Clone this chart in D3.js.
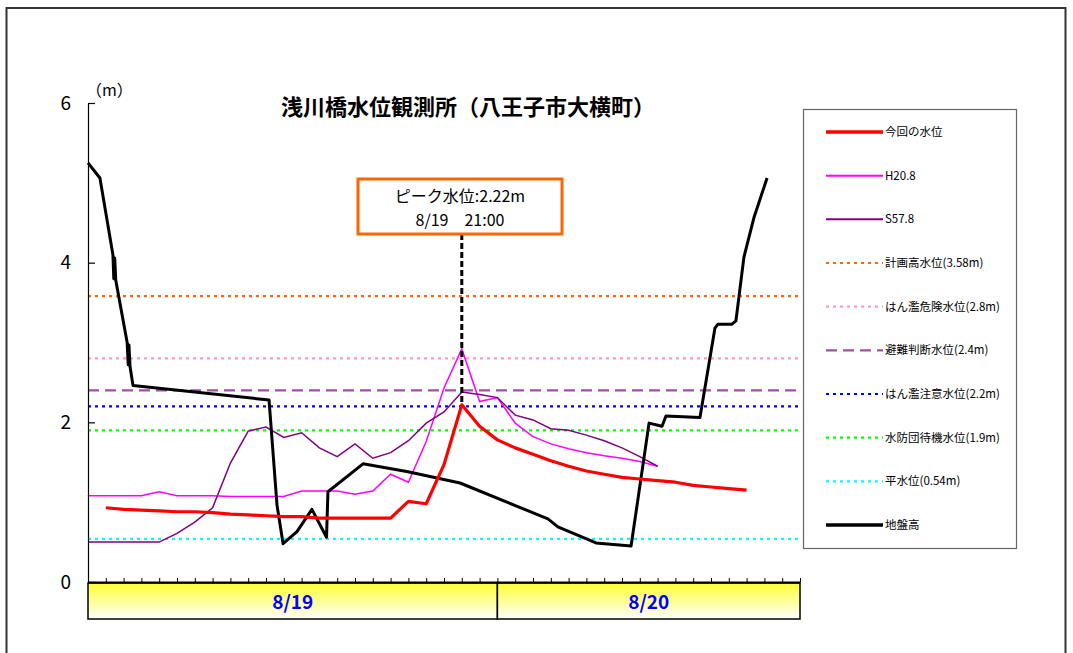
<!DOCTYPE html>
<html><head><meta charset="utf-8">
<script src="https://cdn.jsdelivr.net/npm/d3@7"></script>
<style>
body{margin:0;background:#fff;}
svg{display:block;}
text{font-family:"Noto Sans CJK JP","Noto Sans",sans-serif;}
</style></head>
<body><svg id="c" width="1073" height="653"></svg>
<script>
// ---- data ----
const titleText = "浅川橋水位観測所（八王子市大横町）";
const yTicks = [0, 2, 4, 6];
const hourTicks = d3.range(0, 41);
const days = ["8/19", "8/20"];
const dayStart = [0, 23];
const dayEnd = [23, 40];

// 今回の水位 (index = hour position)
const nowLevel = [null, 0.93, 0.91, 0.90, 0.89, 0.88, 0.88, 0.87, 0.85, 0.84, 0.83,
  0.82, 0.82, 0.80, 0.80, 0.80, 0.80, 0.80, 1.01, 0.98, 1.47,
  2.22, 1.95, 1.78, 1.68, 1.60, 1.52, 1.45, 1.39, 1.35, 1.31,
  1.29, 1.27, 1.25, 1.21, 1.19, 1.17, 1.15];
// H20.8
const h208 = [1.08, 1.08, 1.08, 1.08, 1.13, 1.08, 1.08, 1.08, 1.07, 1.07, 1.07,
  1.07, 1.14, 1.14, 1.14, 1.10, 1.14, 1.35, 1.25, 1.76, 2.43,
  2.92, 2.26, 2.31, 1.99, 1.82, 1.73, 1.67, 1.62, 1.58, 1.55,
  1.51, 1.45];
// S57.8
const s578 = [0.50, 0.50, 0.50, 0.50, 0.50, 0.61, 0.75, 0.93, 1.49, 1.89, 1.94,
  1.81, 1.87, 1.68, 1.57, 1.73, 1.55, 1.62, 1.77, 1.99, 2.13,
  2.38, 2.35, 2.31, 2.09, 2.03, 1.92, 1.90, 1.84, 1.77, 1.68,
  1.57, 1.45];
// 地盤高 (cross-section profile)
const groundX = [0, 0.67, 1.40, 1.45, 1.50, 1.56, 2.20, 2.26, 2.30, 2.36, 2.53,
  10.17, 10.62, 10.96, 11.74, 12.58, 13.40, 13.48, 15.45, 17.98, 20.90,
  25.84, 26.40, 28.54, 30.51, 31.52, 32.25, 32.47, 34.38, 35.22, 35.39,
  36.18, 36.40, 36.85, 37.42, 38.15];
const groundV = [5.25, 5.06, 4.10, 3.80, 4.06, 3.78, 3.00, 2.72, 2.97, 2.70, 2.46,
  2.28, 0.96, 0.48, 0.63, 0.91, 0.56, 1.13, 1.48, 1.38, 1.24,
  0.79, 0.69, 0.49, 0.45, 1.99, 1.95, 2.08, 2.06, 3.18, 3.23,
  3.23, 3.27, 4.07, 4.57, 5.06];

const levelNames = ["計画高水位(3.58m)", "はん濫危険水位(2.8m)", "避難判断水位(2.4m)", "はん濫注意水位(2.2m)", "水防団待機水位(1.9m)", "平水位(0.54m)"];
const levelValues = [3.58, 2.8, 2.4, 2.2, 1.9, 0.54];
const levelColors = ["#FF6600", "#FF99CC", "#A050A8", "#0000FF", "#00FF00", "#00FFFF"];
const levelDash = ["3,4", "3,4", "11,6", "3,4", "3,4", "3,4"];

const peakIndex = 21;
const peakValue = 2.22;
const peakLines = ["ピーク水位:2.22m", "8/19　21:00"];

// ---- drawing ----
const svg = d3.select("#c");
const x = d3.scaleLinear().domain([0, 40]).range([88, 800]);
const y = d3.scaleLinear().domain([0, 6]).range([582, 103]);

// outer frame
svg.append("rect").attr("x", 6.5).attr("y", 8).attr("width", 1059).attr("height", 660)
  .attr("fill", "none").attr("stroke", "#333").attr("stroke-width", 2);

// gradient
const defs = svg.append("defs");
const g1 = defs.append("linearGradient").attr("id", "yel").attr("x1", 0).attr("y1", 0).attr("x2", 0).attr("y2", 1);
g1.append("stop").attr("offset", "0%").attr("stop-color", "#FFFF33");
g1.append("stop").attr("offset", "100%").attr("stop-color", "#FFFFFF");

// title
svg.append("text").attr("x", 468).attr("y", 115).attr("text-anchor", "middle")
  .attr("font-size", 22).attr("font-weight", "bold").text(titleText);

// unit
svg.append("text").attr("x", 86).attr("y", 96).attr("font-size", 16).text("（m）");

// level lines
levelValues.forEach((v, i) => {
  svg.append("line").attr("x1", x(0)).attr("x2", x(40)).attr("y1", y(v)).attr("y2", y(v))
    .attr("stroke", levelColors[i]).attr("stroke-width", 2.2).attr("stroke-dasharray", levelDash[i]);
});

// series
const lineIdx = d3.line().defined(d => d != null).x((d, i) => x(i)).y(d => y(d));
svg.append("path").attr("d", lineIdx(h208)).attr("fill", "none").attr("stroke", "#FF00FF").attr("stroke-width", 1.5);
svg.append("path").attr("d", lineIdx(s578)).attr("fill", "none").attr("stroke", "#800080").attr("stroke-width", 1.5);

const ground = groundX.map((gx, i) => [gx, groundV[i]]);
svg.append("path").attr("d", d3.line().x(d => x(d[0])).y(d => y(d[1]))(ground))
  .attr("fill", "none").attr("stroke", "#000").attr("stroke-width", 3).attr("stroke-linejoin", "round");

svg.append("path").attr("d", lineIdx(nowLevel)).attr("fill", "none").attr("stroke", "#FF0000").attr("stroke-width", 3.2).attr("stroke-linejoin", "round");

// peak annotation
const boxX = 358, boxY = 179, boxW = 204, boxH = 55;
svg.append("line").attr("x1", x(peakIndex)).attr("x2", x(peakIndex)).attr("y1", boxY + boxH).attr("y2", y(peakValue))
  .attr("stroke", "#000").attr("stroke-width", 3).attr("stroke-dasharray", "6,3");
svg.append("rect").attr("x", boxX).attr("y", boxY).attr("width", boxW).attr("height", boxH)
  .attr("fill", "#fff").attr("stroke", "#FF6600").attr("stroke-width", 3);
svg.append("text").attr("x", boxX + boxW / 2).attr("y", 202).attr("text-anchor", "middle").attr("font-size", 16).text(peakLines[0]);
svg.append("text").attr("x", boxX + boxW / 2).attr("y", 226).attr("text-anchor", "middle").attr("font-size", 16).text(peakLines[1]);

// y axis
const ya = svg.append("g").attr("transform", "translate(88,0)")
  .call(d3.axisLeft(y).tickValues(yTicks).tickSize(-7).tickPadding(17).tickSizeOuter(0).tickFormat(d3.format("d")));
ya.select(".domain").attr("stroke", "#000").attr("stroke-width", 1.2);
ya.selectAll(".tick line").attr("stroke", "#000").attr("stroke-width", 1.2);
ya.selectAll(".tick text").attr("font-size", 19).attr("font-family", "'Liberation Sans',Arial,sans-serif").attr("fill", "#000");

// day bands
days.forEach((d, i) => {
  svg.append("rect").attr("x", x(dayStart[i])).attr("y", 583).attr("width", x(dayEnd[i]) - x(dayStart[i])).attr("height", 36)
    .attr("fill", "url(#yel)").attr("stroke", "#000").attr("stroke-width", 1.5);
  svg.append("text").attr("x", (x(dayStart[i]) + x(dayEnd[i])) / 2).attr("y", 609).attr("text-anchor", "middle")
    .attr("font-size", 19).attr("font-weight", "bold").attr("fill", "#0000FF")
    .attr("font-family", "'DejaVu Sans Mono',monospace").text(d);
});

// x axis (ticks upward)
const xa = svg.append("g").attr("transform", "translate(0,582)")
  .call(d3.axisTop(x).tickValues(hourTicks).tickSize(4).tickSizeOuter(0).tickFormat(""));
xa.select(".domain").attr("stroke", "#000").attr("stroke-width", 2.2);
xa.selectAll(".tick line").attr("stroke", "#000").attr("stroke-width", 1);

// legend
const lg = svg.append("g");
lg.append("rect").attr("x", 803.5).attr("y", 109.5).attr("width", 213).attr("height", 439)
  .attr("fill", "#fff").attr("stroke", "#666").attr("stroke-width", 1.2);
const legendNames = ["今回の水位", "H20.8", "S57.8"].concat(levelNames).concat(["地盤高"]);
const legendColors = ["#FF0000", "#FF00FF", "#800080"].concat(levelColors).concat(["#000"]);
const legendWidths = [3.5, 2, 2, 2.2, 2.2, 2.2, 2.2, 2.2, 2.2, 3.5];
const legendDash = [null, null, null].concat(levelDash).concat([null]);
const ly = d3.scaleLinear().domain([0, 9]).range([132, 525]);
legendNames.forEach((n, i) => {
  lg.append("line").attr("x1", 826).attr("x2", 883).attr("y1", ly(i)).attr("y2", ly(i))
    .attr("stroke", legendColors[i]).attr("stroke-width", legendWidths[i])
    .attr("stroke-dasharray", legendDash[i]);
  lg.append("text").attr("x", 885).attr("y", ly(i) + 4).attr("font-size", 11.5).attr("fill", "#000").text(n);
});
</script></body></html>
